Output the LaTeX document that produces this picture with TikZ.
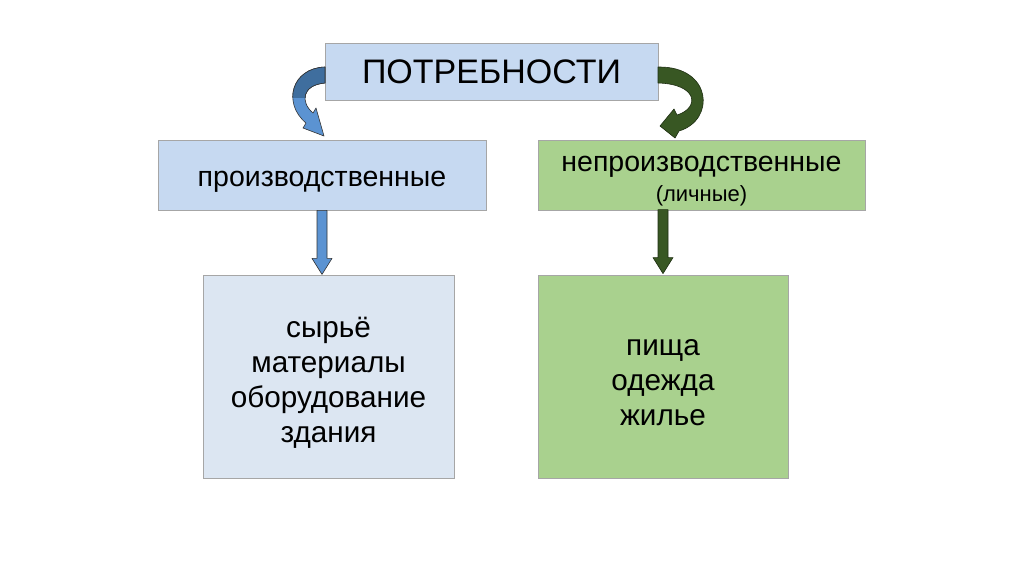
\documentclass[tikz,border=0pt]{standalone}
\usepackage{fontspec}
\setmainfont{Liberation Sans}
\usetikzlibrary{calc}
\definecolor{boxblue}{HTML}{C6D9F1}
\definecolor{paleblue}{HTML}{DCE6F2}
\definecolor{boxgreen}{HTML}{A9D18E}
\definecolor{boxline}{HTML}{A6A6A6}
\definecolor{arrowblue}{HTML}{5B93D2}
\definecolor{darkblue}{HTML}{3F6E9E}
\definecolor{arrowgreen}{HTML}{385723}
\definecolor{edgegreen}{HTML}{1E2E12}

\begin{document}
\begin{tikzpicture}[x=1pt,y=-1pt,
  box/.style={draw=boxline,line width=0.8pt,inner sep=0pt,align=center},
  bluearrow/.style={fill=arrowblue,draw=black!80,line width=0.6pt,line join=round},
  greenarrow/.style={fill=arrowgreen,draw=edgegreen,line width=0.6pt,line join=round}]
\useasboundingbox (0,0) rectangle (1024,574);
% boxes
\node[box,fill=boxblue,minimum width=333pt,minimum height=57pt,font=\fontsize{34}{40}\selectfont] (need) at (491.5,71.5) {ПОТРЕБНОСТИ};
\node[box,fill=boxblue,minimum width=328pt,minimum height=70pt,font=\fontsize{28.5}{34}\selectfont] (prod) at (322,175) {\rule{0pt}{28pt}производственные};
\node[box,fill=boxgreen,minimum width=327pt,minimum height=70pt,font=\fontsize{28.5}{34}\selectfont] (nonprod) at (701.5,175) {\rule{0pt}{28pt}непроизводственные\\[-4pt]{\fontsize{22}{26}\selectfont(личные)}};
\node[box,fill=paleblue,minimum width=251pt,minimum height=203pt,font=\fontsize{29.7}{35}\selectfont] (prodlist) at (328.5,376.5) {\rule{0pt}{33pt}сырьё\\материалы\\оборудование\\здания};
\node[box,fill=boxgreen,minimum width=250pt,minimum height=203pt,font=\fontsize{29.7}{35}\selectfont] (nonlist) at (663,376.5) {\rule{0pt}{28pt}пища\\одежда\\жилье};
% curved arrows
\draw[bluearrow] (325,67) .. controls (292,68) and (282,103) .. (306,123) -- (303,128) -- (324,136)
  -- (316,108) -- (313,113) .. controls (300,102) and (302,85) .. (325,83) -- cycle;
\begin{scope}
\clip (280,60) rectangle (326,97);
\draw[bluearrow,fill=darkblue] (325,67) .. controls (292,68) and (282,103) .. (306,123) -- (303,128) -- (324,136)
  -- (316,108) -- (313,113) .. controls (300,102) and (302,85) .. (325,83) -- cycle;
\end{scope}
\draw[greenarrow] (658,67) .. controls (712,66) and (716,120) .. (679,131) -- (675,138) -- (660,126)
  -- (674,109) -- (677,115) .. controls (700,108) and (698,84) .. (658,83) -- cycle;
% straight arrows
\draw[bluearrow] ($(prod.south)+(-5,0)$) -- ($(prod.south)+(5,0)$) -- ($(prod.south)+(5,48)$)
  -- ($(prod.south)+(10,48)$) -- ($(prod.south)+(0,64)$) -- ($(prod.south)+(-10,48)$)
  -- ($(prod.south)+(-5,48)$) -- cycle;
\draw[greenarrow] ($(nonlist.north)+(-5,-65)$) -- ($(nonlist.north)+(5,-65)$) -- ($(nonlist.north)+(5,-17)$)
  -- ($(nonlist.north)+(10,-17)$) -- ($(nonlist.north)+(0,-1)$) -- ($(nonlist.north)+(-10,-17)$)
  -- ($(nonlist.north)+(-5,-17)$) -- cycle;
\end{tikzpicture}
\end{document}
